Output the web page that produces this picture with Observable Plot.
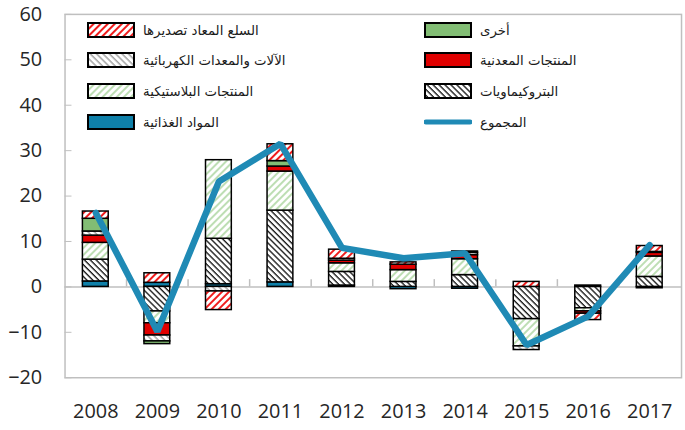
<!DOCTYPE html>
<html><head><meta charset="utf-8">
<script src="https://cdn.jsdelivr.net/npm/d3@7"></script>
<script src="https://cdn.jsdelivr.net/npm/@observablehq/plot@0.6"></script>
<style>
body{margin:0;background:#fff;}
#wrap{position:relative;width:685px;height:430px;overflow:hidden;}
#legend{position:absolute;left:0;top:0;width:685px;height:140px;}
.item{position:absolute;display:flex;align-items:center;height:16px;}
.lab{font-family:"DejaVu Sans",sans-serif;font-size:13.3px;color:#1a1a1a;margin-left:8px;white-space:nowrap;}
</style></head><body>
<svg width="0" height="0" style="position:absolute"><defs>
<pattern id="pRed" width="5" height="5" patternUnits="userSpaceOnUse" patternTransform="rotate(45)"><rect width="5" height="5" fill="#fff"/><line x1="1" y1="0" x2="1" y2="5" stroke="#f01010" stroke-width="1.9"/></pattern>
<pattern id="pGray" width="4.5" height="4.5" patternUnits="userSpaceOnUse" patternTransform="rotate(-45)"><rect width="4.5" height="4.5" fill="#fff"/><line x1="1" y1="0" x2="1" y2="4.5" stroke="#8c8c8c" stroke-width="1.2"/></pattern>
<pattern id="pGreen" width="5" height="5" patternUnits="userSpaceOnUse" patternTransform="rotate(45)"><rect width="5" height="5" fill="#fff"/><line x1="1" y1="0" x2="1" y2="5" stroke="#92c982" stroke-width="1.2"/></pattern>
<pattern id="pBlack" width="4.2" height="4.2" patternUnits="userSpaceOnUse" patternTransform="rotate(-45)"><rect width="4.2" height="4.2" fill="#fff"/><line x1="1" y1="0" x2="1" y2="4.2" stroke="#1a1a1a" stroke-width="1.4"/></pattern>
</defs></svg>
<div id="wrap"><div id="chart"></div><div id="legend"></div></div>
<script>
const years = ["2008","2009","2010","2011","2012","2013","2014","2015","2016","2017"];
const series = ["المواد الغذائية","البتروكيماويات","المنتجات البلاستيكية","المنتجات المعدنية","الآلات والمعدات الكهربائية","أخرى","السلع المعاد تصديرها"];
const totalLabel = "المجموع";
const food      = [1.2, 0.9, 0.6, 1.0, 0.3, -0.5, -0.4, 0, 0, -0.3];
const petro     = [4.8, -5.4, 10.0, 15.8, 3.0, 1.1, 2.6, -7.1, -4.7, 2.2];
const plastics  = [3.7, -2.6, 17.3, 8.6, 1.9, 2.6, 3.5, -6.0, -0.7, 4.5];
const metal     = [1.6, -2.7, 0, 1.1, 0.6, 1.2, 0.9, 0, -0.5, 0.8];
const machinery = [0.9, -1.3, -1.0, 0, 0.4, 0, 0.5, -0.8, 0, 0.2];
const others    = [2.8, -0.6, 0, 1.2, 0, 0, 0, 0, 0.3, 0];
const reexp     = [1.6, 2.1, -4.1, 3.7, 2.0, 0.5, 0.3, 1.1, -1.4, 1.3];
const total     = [16.3, -9.8, 23.2, 31.5, 8.6, 6.3, 7.4, -12.8, -6.5, 9.2];
const yTicks = [-20, -10, 0, 10, 20, 30, 40, 50, 60];

const seriesValues = [food, petro, plastics, metal, machinery, others, reexp];
const fills = ["#0f80a9", "url(#pBlack)", "url(#pGreen)", "#e00000", "url(#pGray)", "#82bd74", "url(#pRed)"];
const lineColor = "#1f8ab5";

const data = [];
years.forEach((yr, i) => seriesValues.forEach((arr, j) => {
  if (arr[i] !== 0) data.push({year: yr, series: series[j], value: arr[i]});
}));
const totals = years.map((yr, i) => ({year: yr, total: total[i]}));

const W = 690, ML = 65, MR = 4;
const step = (W - ML - MR) / years.length;

const chart = Plot.plot({
  width: W, height: 430,
  marginLeft: ML, marginRight: MR, marginTop: 14, marginBottom: 50,
  style: {fontFamily: "'Open Sans', sans-serif", fontSize: "20px", background: "transparent", color: "#262626"},
  x: {domain: years, paddingInner: 0.58, paddingOuter: 0.29, label: null},
  y: {domain: [-20, 60], label: null},
  color: {domain: series, range: fills},
  marks: [
    Plot.frame({stroke: "#bfbfbf", strokeWidth: 1.5}),
    Plot.axisY({ticks: yTicks, tickSize: -7, tickPadding: 30, stroke: "#bfbfbf", color: "#262626", label: null, fontSize: 20}),
    Plot.axisX({tickSize: 0, tickPadding: 26, label: null, fontSize: 20, color: "#262626"}),
    Plot.ruleY([0], {stroke: "#bfbfbf", strokeWidth: 1.5}),
    Plot.ruleX(years.slice(1), {x: d => d, y1: 0, y2: 1.6, stroke: "#bfbfbf", strokeWidth: 1.5, dx: -step / 2}),
    Plot.barY(data, {x: "year", y: "value", fill: "series", stroke: "#000", strokeWidth: 1.5}),
    Plot.line(totals, {x: "year", y: "total", stroke: lineColor, strokeWidth: 6.5, strokeLinejoin: "miter"})
  ]
});
document.getElementById("chart").appendChild(chart);

// legend (inside plot area, two columns)
const legendItems = [
  {label: series[6], fill: fills[6], col: 0, row: 0},
  {label: series[4], fill: fills[4], col: 0, row: 1},
  {label: series[2], fill: fills[2], col: 0, row: 2},
  {label: series[0], fill: fills[0], col: 0, row: 3},
  {label: series[5], fill: fills[5], col: 1, row: 0},
  {label: series[3], fill: fills[3], col: 1, row: 1},
  {label: series[1], fill: fills[1], col: 1, row: 2},
  {label: totalLabel, line: true, col: 1, row: 3}
];
const colX = [87, 424], rowY = [30, 60, 91, 122];
const leg = document.getElementById("legend");
legendItems.forEach(it => {
  const div = document.createElement("div");
  div.className = "item";
  div.style.left = colX[it.col] + "px";
  div.style.top = (rowY[it.row] - 8) + "px";
  const sw = it.line
    ? `<svg width="48" height="16"><line x1="2" y1="8" x2="46" y2="8" stroke="${lineColor}" stroke-width="5" stroke-linecap="round"/></svg>`
    : `<svg width="48" height="16"><rect x="1" y="1" width="46" height="14" fill="${it.fill}" stroke="#000" stroke-width="2"/></svg>`;
  div.innerHTML = sw + `<span class="lab" dir="rtl">${it.label}</span>`;
  leg.appendChild(div);
});
</script>
</body></html>
